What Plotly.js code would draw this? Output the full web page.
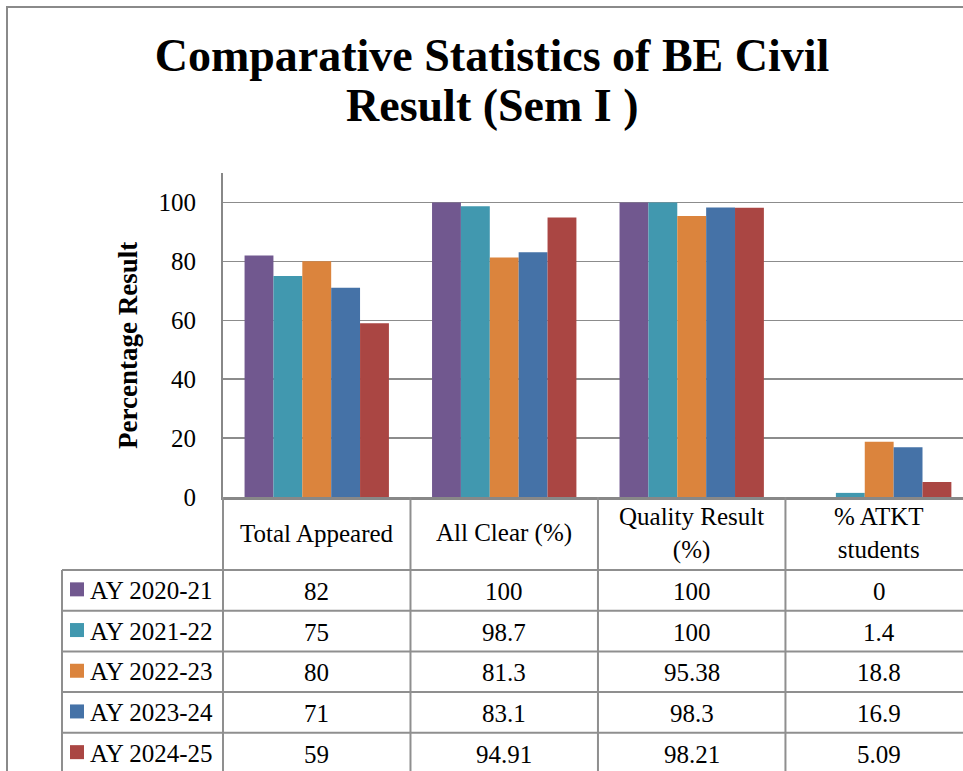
<!DOCTYPE html>
<html>
<head>
<meta charset="utf-8">
<script src="https://cdn.plot.ly/plotly-3.0.1.min.js"></script>
<style>
  html, body { margin: 0; padding: 0; background: #ffffff; overflow: hidden; }
  #chart { width: 963px; height: 771px; }
</style>
</head>
<body>
<div id="chart"></div>
<script>
// ---- data ----
const categories = ['Total Appeared', 'All Clear (%)', 'Quality Result (%)', '% ATKT students'];
const categoryLabels = ['Total Appeared', 'All Clear (%)', 'Quality Result<br>(%)', '% ATKT<br>students'];
const seriesNames = ['AY 2020-21', 'AY 2021-22', 'AY 2022-23', 'AY 2023-24', 'AY 2024-25'];
const ay2020_21 = [82, 100, 100, 0];
const ay2021_22 = [75, 98.7, 100, 1.4];
const ay2022_23 = [80, 81.3, 95.38, 18.8];
const ay2023_24 = [71, 83.1, 98.3, 16.9];
const ay2024_25 = [59, 94.91, 98.21, 5.09];
const seriesValues = [ay2020_21, ay2021_22, ay2022_23, ay2023_24, ay2024_25];
const seriesColors = ['#71588F', '#4198AF', '#DB843D', '#4572A7', '#AA4643'];
const yTicks = [0, 20, 40, 60, 80, 100];
const titleLine1 = 'Comparative Statistics of BE Civil';
const titleLine2 = 'Result (Sem I )';
const yTitle = 'Percentage Result';

// ---- geometry ----
const W = 963, H = 771;
const L = 223, T = 173, B = 497;
const plotW = W - L, plotH = B - T;
const xRange = [-0.5, 3.447];
const catW = plotW / (xRange[1] - xRange[0]);
function xp(px) { return (px - L) / plotW; }
function yp(py) { return (B - py) / plotH; }
function catPx(v) { return L + (v - xRange[0]) * catW; }

const FONT = 'Liberation Serif, Times New Roman, serif';
const lineCol = '#8f8f8f';
const rowTop = 570, rowH = 40.7;
const legLeft = 62;

const traces = seriesNames.map((name, i) => ({
  type: 'bar',
  name: name,
  x: categories,
  y: seriesValues[i],
  marker: { color: seriesColors[i], line: { width: 0 } },
  hoverinfo: 'skip'
}));

const shapes = [];
const annotations = [];

// outer frame
shapes.push({ type: 'rect', xref: 'paper', yref: 'paper',
  x0: xp(7), x1: xp(1010), y0: yp(7), y1: yp(820),
  line: { color: '#8a8a8a', width: 2 }, fillcolor: 'rgba(0,0,0,0)', layer: 'below' });

// table vertical lines (category boundaries)
for (let k = -1; k < categories.length; k++) {
  const px = catPx(k + 0.5);
  shapes.push({ type: 'line', xref: 'paper', yref: 'paper',
    x0: xp(px), x1: xp(px), y0: yp(B), y1: yp(H + 10),
    line: { color: lineCol, width: 2 } });
}
// legend column left line
shapes.push({ type: 'line', xref: 'paper', yref: 'paper',
  x0: xp(legLeft), x1: xp(legLeft), y0: yp(rowTop), y1: yp(H + 10),
  line: { color: lineCol, width: 2 } });
// horizontal row lines
for (let r = 0; r <= seriesNames.length; r++) {
  const py = rowTop + r * rowH;
  shapes.push({ type: 'line', xref: 'paper', yref: 'paper',
    x0: xp(legLeft), x1: xp(W + 30), y0: yp(py), y1: yp(py),
    line: { color: lineCol, width: 2 } });
}

// second title line
annotations.push({ xref: 'paper', yref: 'paper', x: xp(492), y: yp(106),
  text: '<b>' + titleLine2 + '</b>', showarrow: false, xanchor: 'center', yanchor: 'middle',
  font: { family: FONT, size: 46, color: '#000' } });

// y axis title
annotations.push({ xref: 'paper', yref: 'paper', x: xp(128), y: yp(346),
  text: '<b>' + yTitle + '</b>', textangle: -90, showarrow: false,
  xanchor: 'center', yanchor: 'middle',
  font: { family: FONT, size: 27, color: '#000' } });

// header labels
categories.forEach((c, i) => {
  annotations.push({ xref: 'x', yref: 'paper', x: c, y: yp(533),
    text: categoryLabels[i], showarrow: false, xanchor: 'center', yanchor: 'middle',
    font: { family: FONT, size: 25, color: '#000' } });
});

// rows
seriesNames.forEach((name, r) => {
  const cy = rowTop + r * rowH + rowH / 2;
  shapes.push({ type: 'rect', xref: 'paper', yref: 'paper',
    x0: xp(70), x1: xp(84), y0: yp(cy - 8), y1: yp(cy + 6),
    fillcolor: seriesColors[r], line: { width: 0 } });
  annotations.push({ xref: 'paper', yref: 'paper', x: xp(88), y: yp(cy),
    text: name, showarrow: false, xanchor: 'left', yanchor: 'middle',
    font: { family: FONT, size: 25, color: '#000' } });
  categories.forEach((c, i) => {
    annotations.push({ xref: 'x', yref: 'paper', x: c, y: yp(cy + 1),
      text: String(seriesValues[r][i]), showarrow: false, xanchor: 'center', yanchor: 'middle',
      font: { family: FONT, size: 25, color: '#000' } });
  });
});

const layout = {
  width: W, height: H,
  margin: { l: L, r: 0, t: T, b: H - B, pad: 0 },
  paper_bgcolor: '#ffffff', plot_bgcolor: '#ffffff',
  showlegend: false,
  barmode: 'group',
  bargap: 0.23,
  bargroupgap: 0,
  title: {
    text: '<b>' + titleLine1 + '</b>',
    xref: 'container', x: 492 / W, xanchor: 'center',
    yref: 'container', y: 1 - 55 / H, yanchor: 'middle',
    font: { family: FONT, size: 46, color: '#000' }
  },
  xaxis: {
    type: 'category',
    range: xRange,
    showticklabels: false,
    ticks: '',
    showgrid: false,
    zeroline: false,
    showline: true, linecolor: '#888888', linewidth: 2.5,
    fixedrange: true
  },
  yaxis: {
    range: [0, 110],
    tickvals: yTicks,
    ticktext: yTicks.map(String),
    tickfont: { family: FONT, size: 25, color: '#000' },
    ticks: '',
    ticklabelstandoff: 20,
    showgrid: true, gridcolor: '#8c8c8c', gridwidth: 1.5,
    zeroline: false,
    showline: true, linecolor: '#888888', linewidth: 2,
    fixedrange: true
  },
  shapes: shapes,
  annotations: annotations
};

Plotly.newPlot('chart', traces, layout, { staticPlot: true, displayModeBar: false });
</script>
</body>
</html>
